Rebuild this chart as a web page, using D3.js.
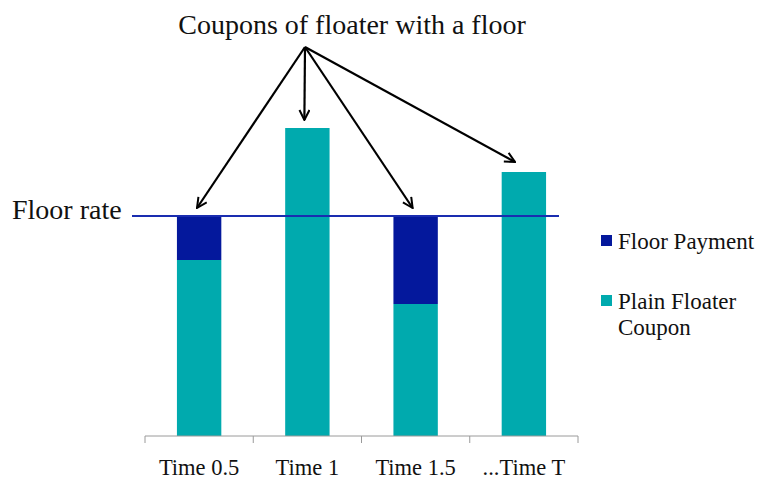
<!DOCTYPE html>
<html><head><meta charset="utf-8">
<script src="https://cdn.jsdelivr.net/npm/d3@7"></script>
<style>
html,body{margin:0;padding:0;background:#fff;}
text{font-family:"Liberation Serif","DejaVu Serif",serif;fill:#111;}
</style></head>
<body><svg id="c" width="758" height="482"></svg>
<script>
const categories = ["Time 0.5", "Time 1", "Time 1.5", "...Time T"];
const plainCoupon = [4, 7, 3, 6];
const floorPayment = [1, 0, 2, 0];
const floorRate = 5;
const seriesNames = ["Floor Payment", "Plain Floater Coupon"];
const colors = ["#04189c", "#00aaae"];

const svg = d3.select("#c");
const x = d3.scaleBand().domain(categories).range([145, 578]).paddingInner(0).paddingOuter(0);
const y = d3.scaleLinear().domain([0, 8]).range([436, 84]);
const barW = x.bandwidth() * 0.41;

// bars
const g = svg.append("g");
categories.forEach((c, i) => {
  const cx = x(c) + x.bandwidth() / 2;
  g.append("rect").attr("x", cx - barW / 2).attr("width", barW)
    .attr("y", y(plainCoupon[i])).attr("height", y(0) - y(plainCoupon[i]))
    .attr("fill", colors[1]);
  if (floorPayment[i] > 0) {
    g.append("rect").attr("x", cx - barW / 2).attr("width", barW)
      .attr("y", y(plainCoupon[i] + floorPayment[i]))
      .attr("height", y(plainCoupon[i]) - y(plainCoupon[i] + floorPayment[i]))
      .attr("fill", colors[0]);
  }
});

// axis
const ax = svg.append("g").attr("transform", "translate(0," + y(0) + ")");
ax.append("line").attr("x1", 145).attr("x2", 578).attr("stroke", "#9a9a9a").attr("stroke-width", 1);
const tickPos = categories.map(c => x(c)).concat([x(categories[categories.length-1]) + x.bandwidth()]);
tickPos.forEach(t => ax.append("line").attr("x1", t).attr("x2", t).attr("y1", 0).attr("y2", 7).attr("stroke", "#9a9a9a"));
categories.forEach(c => {
  ax.append("text").attr("x", x(c) + x.bandwidth() / 2).attr("y", 39)
    .attr("text-anchor", "middle").attr("font-size", 22.5).text(c);
});

// floor line
svg.append("line").attr("x1", 132).attr("x2", 559).attr("y1", y(floorRate)).attr("y2", y(floorRate))
  .attr("stroke", "#1a2db0").attr("stroke-width", 2);
svg.append("text").attr("x", 12).attr("y", y(floorRate) + 3).attr("font-size", 28).text("Floor rate");

// title
svg.append("text").attr("x", 352).attr("y", 34).attr("text-anchor", "middle").attr("font-size", 28)
  .text("Coupons of floater with a floor");

// arrows
svg.append("defs").append("marker").attr("id", "ah").attr("viewBox", "0 0 12 12")
  .attr("refX", 11).attr("refY", 6).attr("markerWidth", 12).attr("markerHeight", 12)
  .attr("markerUnits", "userSpaceOnUse").attr("orient", "auto")
  .append("path").attr("d", "M1,1 L11,6 L1,11").attr("fill", "none").attr("stroke", "#000").attr("stroke-width", 2);
const origin = [305, 47];
const tips = categories.map((c, i) => {
  const cx = x(c) + x.bandwidth() / 2;
  const top = plainCoupon[i] + floorPayment[i];
  return [cx - 3, y(top) - 8 - (i === 3 ? 2 : 0)];
});
tips[0][0] = 197; tips[3][0] = 515;
tips.forEach(t => {
  svg.append("line").attr("x1", origin[0]).attr("y1", origin[1]).attr("x2", t[0]).attr("y2", t[1])
    .attr("stroke", "#000").attr("stroke-width", 2.2).attr("marker-end", "url(#ah)");
});

// legend
const lg = svg.append("g");
lg.append("rect").attr("x", 601).attr("y", 235).attr("width", 11).attr("height", 11).attr("fill", colors[0]);
lg.append("text").attr("x", 618).attr("y", 249).attr("font-size", 23).text("Floor Payment");
lg.append("rect").attr("x", 601).attr("y", 295).attr("width", 11).attr("height", 11).attr("fill", colors[1]);
lg.append("text").attr("x", 618).attr("y", 309).attr("font-size", 23).text("Plain Floater");
lg.append("text").attr("x", 618).attr("y", 335).attr("font-size", 23).text("Coupon");
</script></body></html>
